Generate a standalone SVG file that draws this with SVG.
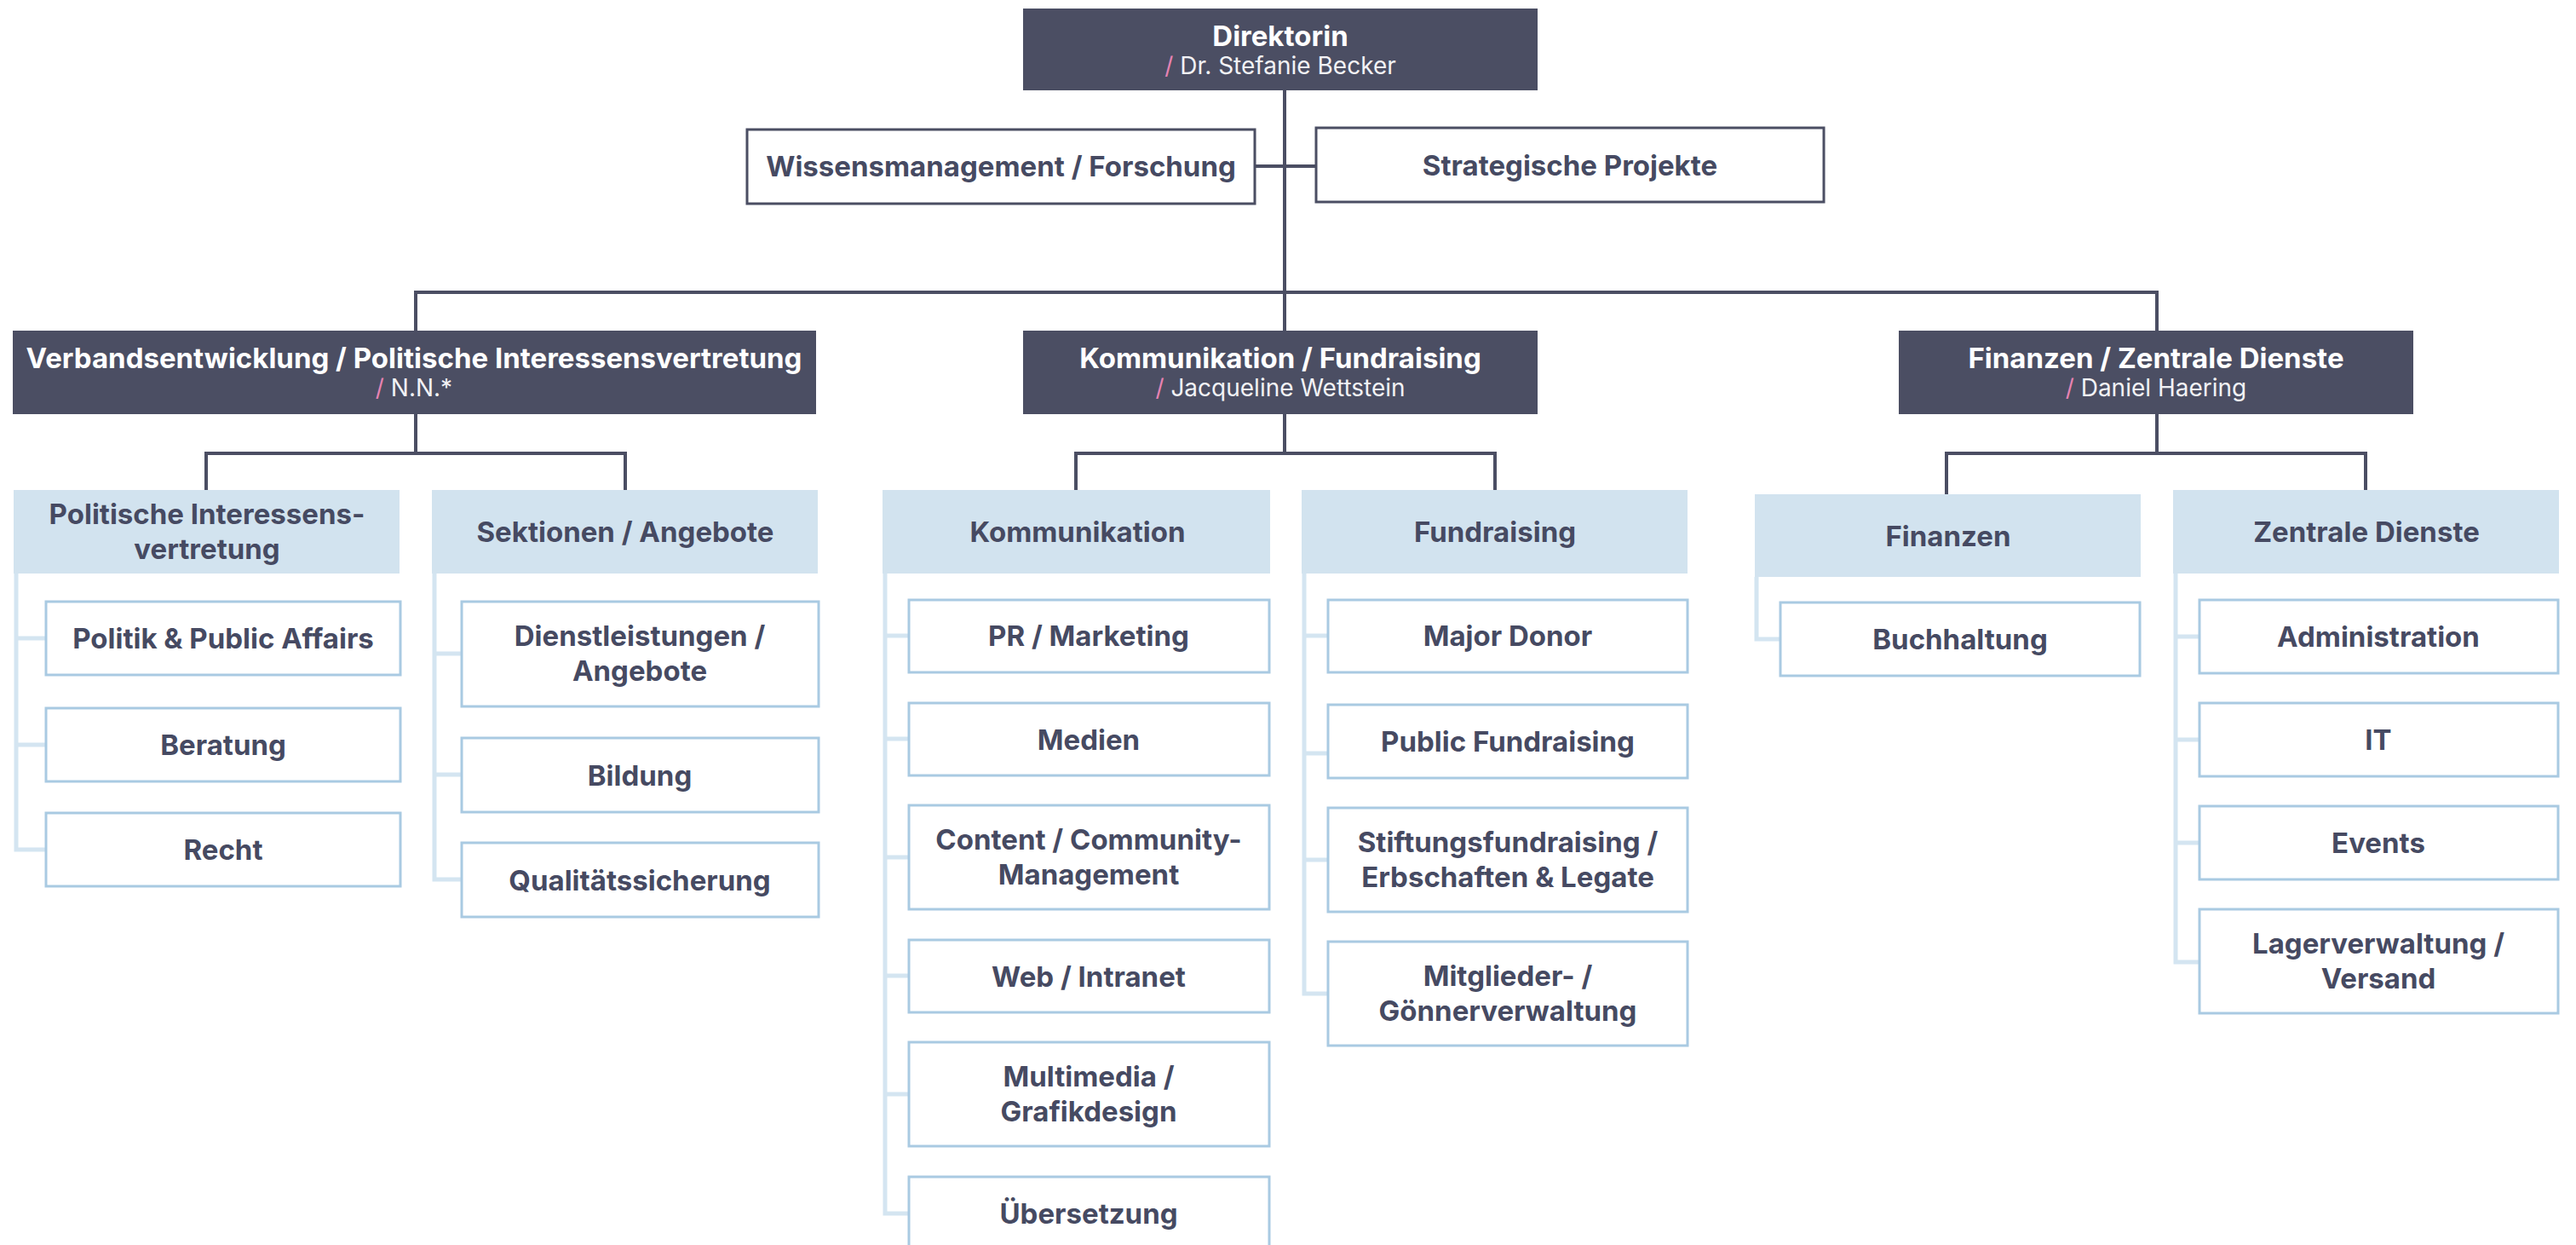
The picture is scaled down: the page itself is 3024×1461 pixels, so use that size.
<svg xmlns="http://www.w3.org/2000/svg" width="3024" height="1461" viewBox="0 0 3024 1461">
<style>
.dark{fill:#4b4e63}
.hdr{fill:#d2e3ef}
.box{fill:#fff;stroke:#a9cae2;stroke-width:3}
.wbox{fill:#fff;stroke:#4b4e63;stroke-width:3}
text{font-family:Inter,Lato,"Liberation Sans",sans-serif;text-anchor:middle}
.t{font-size:33px;font-weight:700;fill:#464a62}
.tw{font-size:33px;font-weight:700;fill:#fff}
.sub{font-size:28px;font-weight:400;fill:#f2f2f5}
.sl{fill:#e683b3}
.conn{stroke:#4b4e63;stroke-width:4;fill:none}
.br{stroke:#d4e5f1;stroke-width:5;fill:none}
</style>
<rect width="3024" height="1461" fill="#fff"/>
<g id="connectors">
<path class="conn" d="M1508 106V388M1473 195H1545M488 388V343H2532V388"/>
<path class="conn" d="M488 486V532M242 575V532H734V575"/>
<path class="conn" d="M1508 486V532M1263 575V532H1755V575"/>
<path class="conn" d="M2532 486V532M2285 580V532H2777V575"/>
<path class="br" d="M19 673V997H54M19 749H54M19 874H54"/>
<path class="br" d="M510 673V1032H542M510 767H542M510 909H542"/>
<path class="br" d="M1039 673V1424H1067M1039 746H1067M1039 867H1067M1039 1006H1067M1039 1145H1067M1039 1284H1067"/>
<path class="br" d="M1531 673V1166H1559M1531 746H1559M1531 884H1559M1531 1009H1559"/>
<path class="br" d="M2062 677V750H2090"/>
<path class="br" d="M2554 673V1129H2582M2554 747H2582M2554 868H2582M2554 989H2582"/>
</g>
<g id="direktorin"><rect class="dark" x="1201" y="10" width="604" height="96"/><text class="tw" x="1503" y="54">Direktorin</text><text class="sub" x="1503" y="87"><tspan class="sl">/</tspan> Dr. Stefanie Becker</text></g>
<g id="wissen"><rect class="wbox" x="877" y="152" width="596" height="87"/><text class="t" x="1175" y="207">Wissensmanagement / Forschung</text></g>
<g id="strategie"><rect class="wbox" x="1545" y="150" width="596" height="87"/><text class="t" x="1843" y="206">Strategische Projekte</text></g>
<g id="verband"><rect class="dark" x="15" y="388" width="943" height="98"/><text class="tw" x="486" y="432">Verbandsentwicklung / Politische Interessensvertretung</text><text class="sub" x="486" y="465"><tspan class="sl">/</tspan> N.N.*</text></g>
<g id="kommfund"><rect class="dark" x="1201" y="388" width="604" height="98"/><text class="tw" x="1503" y="432">Kommunikation / Fundraising</text><text class="sub" x="1503" y="465"><tspan class="sl">/</tspan> Jacqueline Wettstein</text></g>
<g id="finzd"><rect class="dark" x="2229" y="388" width="604" height="98"/><text class="tw" x="2531" y="432">Finanzen / Zentrale Dienste</text><text class="sub" x="2531" y="465"><tspan class="sl">/</tspan> Daniel Haering</text></g>
<g id="h-pi"><rect class="hdr" x="16" y="575" width="453" height="98"/><text class="t" x="243" y="615">Politische Interessens-</text><text class="t" x="243" y="656">vertretung</text></g>
<g id="h-sek"><rect class="hdr" x="507" y="575" width="453" height="98"/><text class="t" x="734" y="636">Sektionen / Angebote</text></g>
<g id="h-komm"><rect class="hdr" x="1036" y="575" width="455" height="98"/><text class="t" x="1265" y="636">Kommunikation</text></g>
<g id="h-fund"><rect class="hdr" x="1528" y="575" width="453" height="98"/><text class="t" x="1755" y="636">Fundraising</text></g>
<g id="h-fin"><rect class="hdr" x="2060" y="580" width="453" height="97"/><text class="t" x="2287" y="641">Finanzen</text></g>
<g id="h-zd"><rect class="hdr" x="2551" y="575" width="453" height="98"/><text class="t" x="2778" y="636">Zentrale Dienste</text></g>
<g id="politik"><rect class="box" x="54" y="706" width="416" height="86"/><text class="t" x="262" y="761">Politik &amp; Public Affairs</text></g>
<g id="beratung"><rect class="box" x="54" y="831" width="416" height="86"/><text class="t" x="262" y="886">Beratung</text></g>
<g id="recht"><rect class="box" x="54" y="954" width="416" height="86"/><text class="t" x="262" y="1009">Recht</text></g>
<g id="dienst"><rect class="box" x="542" y="706" width="419" height="123"/><text class="t" x="751" y="758">Dienstleistungen /</text><text class="t" x="751" y="799">Angebote</text></g>
<g id="bildung"><rect class="box" x="542" y="866" width="419" height="87"/><text class="t" x="751" y="922">Bildung</text></g>
<g id="qualitaet"><rect class="box" x="542" y="989" width="419" height="87"/><text class="t" x="751" y="1045">Qualitätssicherung</text></g>
<g id="pr"><rect class="box" x="1067" y="704" width="423" height="85"/><text class="t" x="1278" y="758">PR / Marketing</text></g>
<g id="medien"><rect class="box" x="1067" y="825" width="423" height="85"/><text class="t" x="1278" y="880">Medien</text></g>
<g id="content"><rect class="box" x="1067" y="945" width="423" height="122"/><text class="t" x="1278" y="997">Content / Community-</text><text class="t" x="1278" y="1038">Management</text></g>
<g id="web"><rect class="box" x="1067" y="1103" width="423" height="85"/><text class="t" x="1278" y="1158">Web / Intranet</text></g>
<g id="multimedia"><rect class="box" x="1067" y="1223" width="423" height="122"/><text class="t" x="1278" y="1275">Multimedia /</text><text class="t" x="1278" y="1316">Grafikdesign</text></g>
<g id="uebersetzung"><rect class="box" x="1067" y="1381" width="423" height="86"/><text class="t" x="1278" y="1436">Übersetzung</text></g>
<g id="major"><rect class="box" x="1559" y="704" width="422" height="85"/><text class="t" x="1770" y="758">Major Donor</text></g>
<g id="public"><rect class="box" x="1559" y="827" width="422" height="86"/><text class="t" x="1770" y="882">Public Fundraising</text></g>
<g id="stiftung"><rect class="box" x="1559" y="948" width="422" height="122"/><text class="t" x="1770" y="1000">Stiftungsfundraising /</text><text class="t" x="1770" y="1041">Erbschaften &amp; Legate</text></g>
<g id="mitglieder"><rect class="box" x="1559" y="1105" width="422" height="122"/><text class="t" x="1770" y="1157">Mitglieder- /</text><text class="t" x="1770" y="1198">Gönnerverwaltung</text></g>
<g id="buchhaltung"><rect class="box" x="2090" y="707" width="422" height="86"/><text class="t" x="2301" y="762">Buchhaltung</text></g>
<g id="admin"><rect class="box" x="2582" y="704" width="421" height="86"/><text class="t" x="2792" y="759">Administration</text></g>
<g id="it"><rect class="box" x="2582" y="825" width="421" height="86"/><text class="t" x="2792" y="880">IT</text></g>
<g id="events"><rect class="box" x="2582" y="946" width="421" height="86"/><text class="t" x="2792" y="1001">Events</text></g>
<g id="lager"><rect class="box" x="2582" y="1067" width="421" height="122"/><text class="t" x="2792" y="1119">Lagerverwaltung /</text><text class="t" x="2792" y="1160">Versand</text></g>
</svg>
